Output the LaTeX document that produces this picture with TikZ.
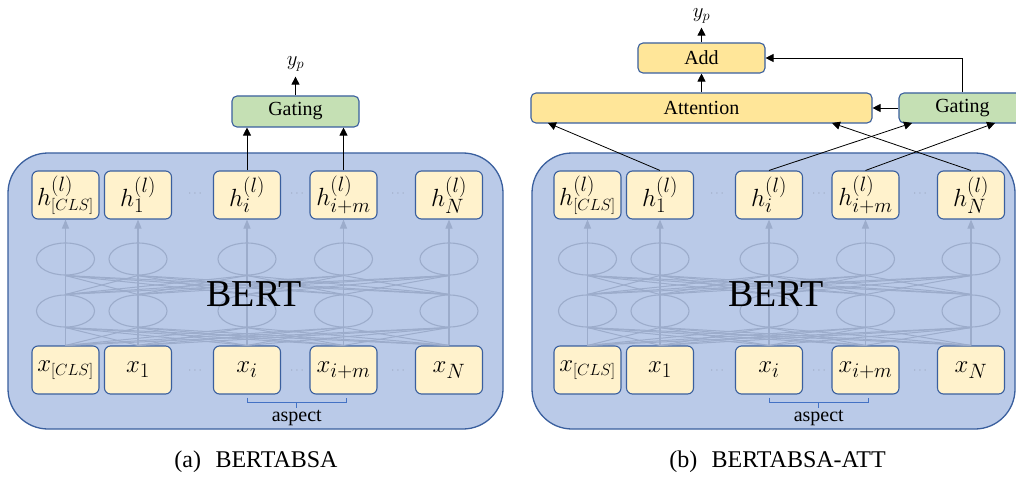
\documentclass[tikz,border=0pt]{standalone}
\usepackage{graphicx}
\usepackage{fontspec}
\setmainfont{Liberation Serif}
\usetikzlibrary{arrows.meta,calc,shapes.geometric}
\definecolor{bord}{HTML}{3A5F9E}
\definecolor{bertfill}{HTML}{BACAE8}
\definecolor{tokfill}{HTML}{FFF2CC}
\definecolor{modfill}{HTML}{FFE699}
\definecolor{gatefill}{HTML}{C5E0B4}
\definecolor{netgray}{HTML}{9CACCB}
\definecolor{dotgray}{HTML}{9AA6BE}
\definecolor{brkblue}{HTML}{4472C4}
\newcommand\myclssub{\scalebox{0.78}{$\scriptstyle[CLS]$}}

\newcommand\mybertpanel[4]{%
  \path[bertbox] (#3,153) rectangle (#4,429);
  \foreach \ii/\cxx/\htok/\xtok in {1/65.5/{h^{(l)}_{\myclssub}}/{x_{\myclssub}},
                              2/138/{h^{(l)}_{1}}/{x_{1}},
                              3/247/{h^{(l)}_{i}}/{x_{i}},
                              4/343.5/{h^{(l)}_{i+m}}/{x_{i+m}},
                              5/449/{h^{(l)}_{N}}/{x_{N}}}{
    \node[tok] (#1-h\ii) at (\cxx+#2,195) {$\htok$};
    \node[tok] (#1-x\ii) at (\cxx+#2,370) {$\xtok$};
    \node[netell] (#1-u\ii) at (\cxx+#2,259) {};
    \node[netell] (#1-l\ii) at (\cxx+#2,311) {};
  }
  \foreach \ii in {1,...,5}{
    \foreach \jj in {1,...,5}{
      \draw[net] (#1-u\ii.south) -- (#1-l\jj.north);
      \draw[net] (#1-l\ii.south) -- (#1-x\jj.north);
    }
    \draw[netarr] (#1-x\ii.north) -- (#1-h\ii.south);
  }
  \foreach \kk/\dxx in {1/195,2/297,3/398}{
    \node[dotnode] (#1-hd\kk) at (\dxx+#2,194) {$\cdots$};
    \node[dotnode] (#1-xd\kk) at (\dxx+#2,371) {$\cdots$};
  }
  \node[berttxt, anchor=base] (#1-bert) at (254+#2,306) {BERT};
  \draw[brk] ($(#1-x3.south)+(0,3)$) -- ($(#1-x3.south)+(0,8)$)
             -- ($(#1-x4.south)+(3,8)$) -- ($(#1-x4.south)+(3,3)$);
  \coordinate (#1-bm) at ($(#1-x3.south)!0.5!(#1-x4.south)+(1.5,8)$);
  \draw[brk] (#1-bm) -- ++(0,5);
  \node[asptxt] (#1-asp) at ($(#1-bm)+(0,15)$) {aspect};
}

\begin{document}
\begin{tikzpicture}[x=1pt,y=-1pt,
  tok/.style={draw=bord, fill=tokfill, line width=1.1pt, rounded corners=6pt,
    minimum width=67pt, minimum height=48pt, inner sep=0pt,
    font=\fontsize{24.88}{28}\selectfont},
  bertbox/.style={draw=bord, fill=bertfill, line width=1.3pt, rounded corners=40pt},
  netell/.style={ellipse, draw=netgray, line width=1.1pt, minimum width=58pt,
    minimum height=32pt, inner sep=0pt},
  net/.style={draw=netgray, line width=1pt},
  netarr/.style={draw=netgray, line width=1.1pt, -{Triangle[width=7pt,length=9pt]}},
  arr/.style={draw=black, line width=0.8pt, -{Triangle[width=8pt,length=8pt]}},
  mod/.style={draw=bord, line width=1.1pt, rounded corners=5pt, inner sep=0pt,
    font=\fontsize{20}{24}\selectfont, minimum height=30pt},
  dotnode/.style={text=dotgray, font=\fontsize{12}{12}\selectfont, inner sep=0pt},
  berttxt/.style={font=\fontsize{38}{40}\selectfont, inner sep=0pt},
  asptxt/.style={font=\fontsize{20}{22}\selectfont, inner sep=0pt},
  brk/.style={draw=brkblue, line width=1pt},
  captxt/.style={font=\fontsize{24}{28}\selectfont, inner sep=0pt},
  ytxt/.style={font=\fontsize{22}{26}\selectfont, inner sep=0pt}
]
\clip (0,0) rectangle (1016,481);
\fill[white] (0,0) rectangle (1016,481);

% ---------- panel (a)
\mybertpanel{a}{0}{8}{503}
\node[mod, fill=gatefill, minimum width=127pt, minimum height=31pt] (a-gate) at (295.5,111.5) {Gating};
\node[ytxt] (a-yp) at (295.5,64) {$y_p$};
\draw[arr] (a-h3.north) -- (a-h3.north |- a-gate.south);
\draw[arr] (a-h4.north) -- (a-h4.north |- a-gate.south);
\draw[arr, shorten >=5pt] (a-gate.north) -- (a-yp.south);
\node[captxt] (a-cap) at (256,462) {(a)\hspace{0.6em}BERTABSA};

% ---------- panel (b)
\mybertpanel{b}{522}{532}{1015}
\node[mod, fill=modfill, minimum width=341pt] (b-att) at (701.5,108) {Attention};
\node[mod, fill=modfill, minimum width=127pt] (b-add) at (701.5,58) {Add};
\node[mod, fill=gatefill, minimum width=127pt] (b-gate) at (962.5,108) {Gating};
\node[ytxt] (b-yp) at (701.5,16) {$y_p$};
\coordinate (b-ain1) at (548,123);
\coordinate (b-ain2) at (832,123);
\coordinate (b-gin1) at (912,123);
\coordinate (b-gin2) at (995,123);
\draw[arr] (b-h2.north) -- (b-ain1);
\draw[arr] (b-h5.north) -- (b-ain2);
\draw[arr] (b-h3.north) -- (b-gin1);
\draw[arr] (b-h4.north) -- (b-gin2);
\draw[arr] (b-gate.west) -- (b-att.east);
\draw[arr] (b-att.north) -- (b-add.south);
\draw[arr, shorten >=4pt] (b-add.north) -- (b-yp.south);
\draw[arr] (b-gate.north) |- (b-add.east);
\node[captxt] (b-cap) at (777.5,462) {(b)\hspace{0.6em}BERTABSA-ATT};
\end{tikzpicture}
\end{document}
